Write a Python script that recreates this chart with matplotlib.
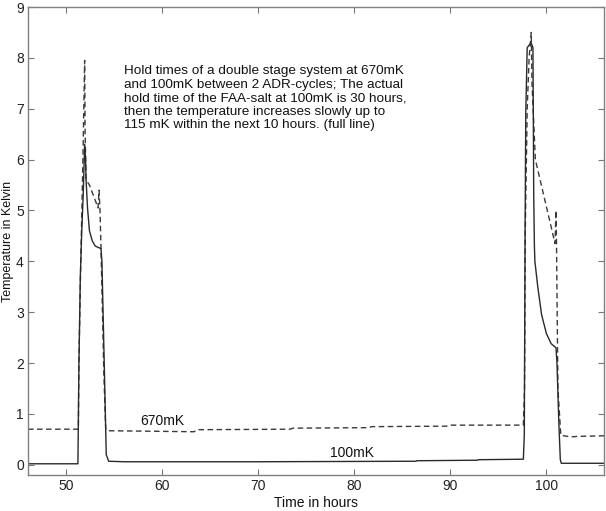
import matplotlib
matplotlib.use("Agg")
import matplotlib.pyplot as plt

plt.rcParams['font.family'] = ['Liberation Sans', 'DejaVu Sans']

# 100mK stage (full line)
t_100 = [46, 51.2, 51.3, 51.45, 51.6, 51.75, 51.9, 52.0, 52.05, 52.2, 52.4, 52.7, 53.0,
         53.6, 53.7, 54.0, 54.15, 54.4, 56, 70, 86.4, 86.5, 92.8, 92.9, 97.6, 97.7,
         97.78, 97.85, 98.0, 98.2, 98.4, 98.6, 98.68, 98.75, 98.8, 99.1, 99.5, 100.0,
         100.5, 101.0, 101.1, 101.3, 101.45, 101.55, 106]
T_100 = [0.02, 0.02, 1.9, 3.7, 4.6, 5.3, 6.3, 6.0, 5.6, 5.05, 4.6, 4.4, 4.3,
         4.25, 4.0, 1.5, 0.2, 0.07, 0.06, 0.06, 0.07, 0.08, 0.09, 0.1, 0.11, 0.6,
         4.6, 6.9, 8.2, 8.25, 8.3, 8.2, 5.3, 4.3, 4.0, 3.5, 2.95, 2.58,
         2.38, 2.3, 2.0, 0.8, 0.1, 0.03, 0.03]

# 670mK stage (dashed line)
t_670 = [46, 51.25, 51.3, 51.5, 51.7, 51.9, 51.95, 52.05, 52.4, 53.3, 53.4, 53.5, 53.6,
         53.9, 54.1, 54.3, 63.3, 63.6, 73.3, 73.6, 81.5, 81.8, 89.8, 90.1, 97.6, 97.72,
         97.8, 98.0, 98.2, 98.42, 98.5, 98.85, 100.9, 101.0, 101.05, 101.2, 101.5,
         102.5, 103.5, 106]
T_670 = [0.7, 0.7, 2.0, 4.0, 5.8, 7.95, 6.5, 5.6, 5.5, 5.05, 5.4, 5.0, 4.3,
         1.8, 0.68, 0.67, 0.65, 0.69, 0.70, 0.72, 0.73, 0.75, 0.76, 0.78, 0.78, 1.5,
         4.6, 7.0, 8.0, 8.5, 7.5, 6.0, 4.35, 5.0, 4.4, 1.5, 0.58,
         0.55, 0.56, 0.57]

xticks = [50, 60, 70, 80, 90, 100]
yticks = list(range(0, 10))

note = ("Hold times of a double stage system at 670mK\n"
        "and 100mK between 2 ADR-cycles; The actual\n"
        "hold time of the FAA-salt at 100mK is 30 hours,\n"
        "then the temperature increases slowly up to\n"
        "115 mK within the next 10 hours. (full line)")

fig = plt.figure(figsize=(6.06, 5.11), dpi=100)
ax = fig.add_axes([0.0462, 0.0705, 0.9505, 0.9158])

ax.plot(t_670, T_670, color='#3a3a3a', lw=1.0, dashes=(4, 2.5))
ax.plot(t_100, T_100, color='#2a2a2a', lw=1.0)

ax.set_xlim(46, 106)
ax.set_ylim(-0.2, 9)
ax.set_xticks(xticks)
ax.set_yticks(yticks)
ax.tick_params(direction='in', top=True, right=True, length=4, width=0.8,
               color='#777777', labelsize=10, labelcolor='#222222', pad=3)
for s in ax.spines.values():
    s.set_color('#808080')
    s.set_linewidth(1.0)

# annotation block and curve labels
ax.text(56, 7.85, note, fontsize=9.7, va='top', ha='left', linespacing=1.16,
        color='#111111')
ax.text(60.0, 0.87, "670mK", fontsize=10, ha='center', va='center', color='#111111')
ax.text(79.7, 0.24, "100mK", fontsize=10, ha='center', va='center', color='#111111')

ax.set_xlabel("Time in hours", fontsize=10, color='#111111')
ax.set_ylabel("Temperature in Kelvin", fontsize=9, color='#111111')
ax.xaxis.set_label_coords(0.5, -0.045)
ax.yaxis.set_label_coords(-0.024, 0.5)

fig.savefig("out.png", dpi=100)
